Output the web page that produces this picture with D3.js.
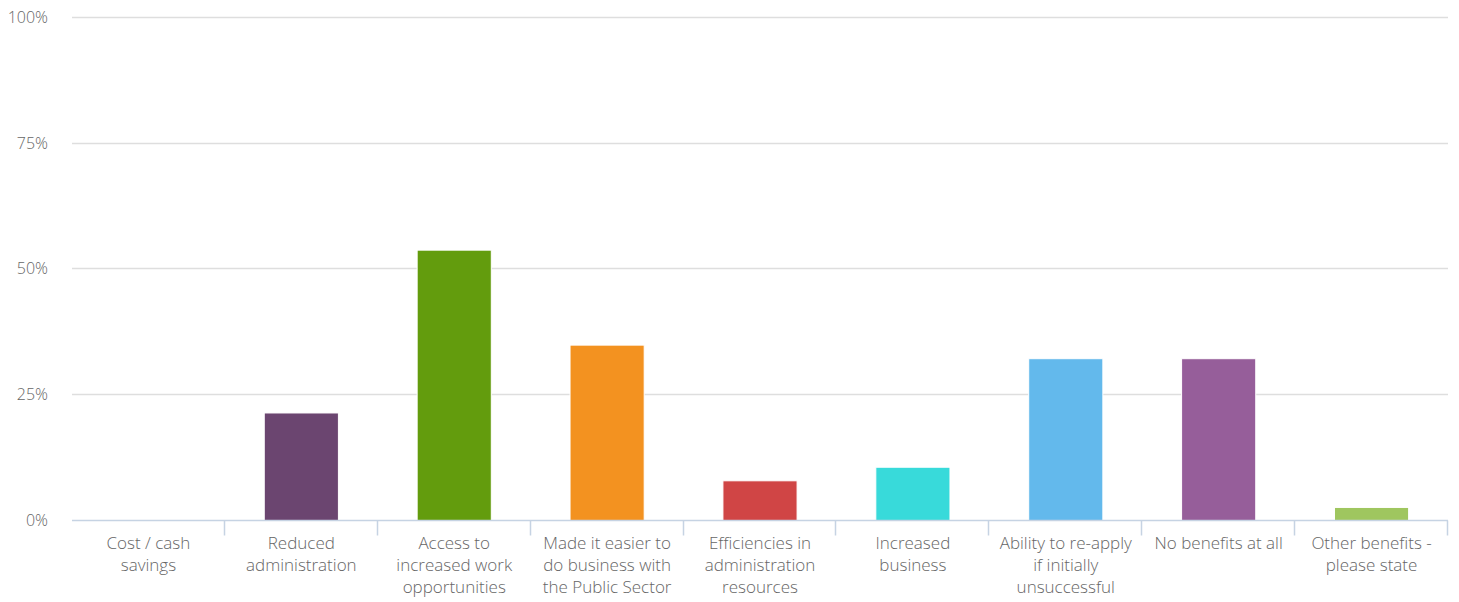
<!DOCTYPE html>
<html>
<head>
<meta charset="utf-8">
<script src="https://cdn.jsdelivr.net/npm/d3@7"></script>
<style>
  html, body { margin: 0; padding: 0; background: #fff; }
  svg { display: block; font-family: "Open Sans", sans-serif; font-weight: 300; }
</style>
</head>
<body>
<svg id="chart" width="1459" height="602"></svg>
<script>
// Survey responses: perceived benefits (% of respondents)
const categories = [
  "Cost / cash savings",
  "Reduced administration",
  "Access to increased work opportunities",
  "Made it easier to do business with the Public Sector",
  "Efficiencies in administration resources",
  "Increased business",
  "Ability to re-apply if initially unsuccessful",
  "No benefits at all",
  "Other benefits - please state"
];
const labelLines = [
  ["Cost / cash", "savings"],
  ["Reduced", "administration"],
  ["Access to", "increased work", "opportunities"],
  ["Made it easier to", "do business with", "the Public Sector"],
  ["Efficiencies in", "administration", "resources"],
  ["Increased", "business"],
  ["Ability to re-apply", "if initially", "unsuccessful"],
  ["No benefits at all"],
  ["Other benefits -", "please state"]
];
const values = [0, 21.4, 53.8, 34.9, 7.9, 10.6, 32.2, 32.2, 2.6];
const colors = ["#7cb5ec", "#6b4570", "#639c0d", "#f39220", "#d04545",
                "#38dada", "#63b9ec", "#965e9a", "#9fc65f"];
const yTicks = [0, 25, 50, 75, 100];

const svg = d3.select("#chart");
const plotLeft = 72, plotRight = 1448, plotTop = 18, plotBottom = 520.5;

const x = d3.scaleBand().domain(categories).range([plotLeft, plotRight]).paddingInner(0).paddingOuter(0);
const y = d3.scaleLinear().domain([0, 100]).range([plotBottom, plotTop]);

// Horizontal grid lines
svg.append("g").selectAll("line")
  .data(yTicks.filter(d => d > 0))
  .join("line")
  .attr("x1", plotLeft).attr("x2", plotRight)
  .attr("y1", d => Math.round(y(d)) - 0.5).attr("y2", d => Math.round(y(d)) - 0.5)
  .attr("stroke", "#dedede").attr("stroke-width", 1.3);

// Y-axis labels
svg.append("g").selectAll("text")
  .data(yTicks)
  .join("text")
  .attr("x", 48)
  .attr("y", d => y(d) + 5)
  .attr("text-anchor", "end")
  .attr("fill", "#666")
  .attr("font-size", 16)
  .text(d => d + "%");

// Bars
const bw = x.bandwidth() * 0.485;
svg.append("g").selectAll("rect")
  .data(values)
  .join("rect")
  .attr("x", (d, i) => x(categories[i]) + (x.bandwidth() - bw) / 2)
  .attr("y", d => y(d))
  .attr("width", bw)
  .attr("height", d => y(0) - y(d))
  .attr("fill", (d, i) => colors[i])
  .attr("stroke", "#fff")
  .attr("stroke-width", 1)
  .attr("display", d => d > 0 ? null : "none");

// X axis line and category tick marks
svg.append("line")
  .attr("x1", plotLeft).attr("x2", plotRight)
  .attr("y1", plotBottom).attr("y2", plotBottom)
  .attr("stroke", "#c6d3e3").attr("stroke-width", 1.5);

const tickPos = categories.map(c => x(c) + x.bandwidth());
svg.append("g").selectAll("line")
  .data(tickPos)
  .join("line")
  .attr("x1", d => Math.round(d) - 0.5).attr("x2", d => Math.round(d) - 0.5)
  .attr("y1", plotBottom).attr("y2", plotBottom + 15)
  .attr("stroke", "#c6d3e3").attr("stroke-width", 1.5);

// Category labels (wrapped)
const lbl = svg.append("g").selectAll("text")
  .data(categories)
  .join("text")
  .attr("text-anchor", "middle")
  .attr("fill", "#666")
  .attr("font-size", 17)
  .attr("x", d => x(d) + x.bandwidth() / 2)
  .attr("y", 549);
lbl.each(function(d, i) {
  d3.select(this).selectAll("tspan")
    .data(labelLines[i])
    .join("tspan")
    .attr("x", x(d) + x.bandwidth() / 2)
    .attr("dy", (t, j) => j === 0 ? 0 : 22)
    .text(t => t);
});
</script>
</body>
</html>
